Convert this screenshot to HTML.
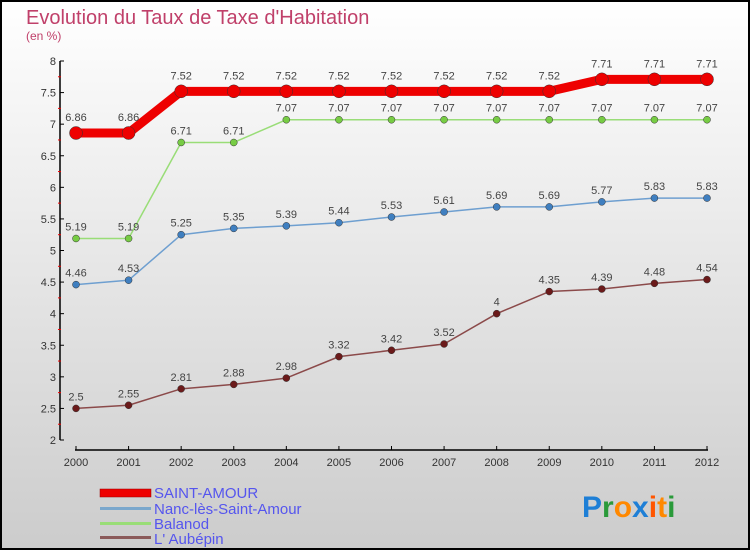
<!DOCTYPE html>
<html><head><meta charset="utf-8"><style>
body{margin:0;width:750px;height:550px;overflow:hidden}
svg{display:block;font-family:"Liberation Sans",sans-serif}
</style></head><body>
<svg id="chart" width="750" height="550" xmlns="http://www.w3.org/2000/svg">
<defs><linearGradient id="bg" x1="0" y1="0" x2="0" y2="1"><stop offset="0" stop-color="#ffffff"/><stop offset="1" stop-color="#cccccc"/></linearGradient></defs>
<rect x="1" y="1" width="748" height="548" fill="url(#bg)" stroke="#000" stroke-width="2"/>
<text x="26" y="24" font-size="20" fill="#c0406a">Evolution du Taux de Taxe d'Habitation</text>
<text x="26" y="40" font-size="12" fill="#c0406a">(en %)</text>
<g id="axes"></g>
<g id="series"></g>
<g font-size="15" fill="#5555ee">
<rect x="100" y="489" width="51" height="8" fill="#ee0000" stroke="#990000" stroke-width="0.5"/>
<text x="154" y="498">SAINT-AMOUR</text>
<rect x="100" y="507" width="51" height="3" fill="#7aa7cc"/>
<text x="154" y="514">Nanc-lès-Saint-Amour</text>
<rect x="100" y="522" width="51" height="3" fill="#99dd77"/>
<text x="154" y="529">Balanod</text>
<rect x="100" y="536" width="51" height="3" fill="#8b5a5a"/>
<text x="154" y="544">L' Aubépin</text>
</g>
<g font-size="30" font-weight="bold">
<text x="582" y="517"><tspan fill="#1e7fd6">P</tspan><tspan fill="#2a9a3a">r</tspan><tspan fill="#ff8800">o</tspan><tspan fill="#1e7fd6">x</tspan><tspan fill="#ff5500">i</tspan><tspan fill="#ff8800">t</tspan><tspan fill="#2a9a3a">i</tspan></text>
</g>
</svg>
<script>
const years=[2000,2001,2002,2003,2004,2005,2006,2007,2008,2009,2010,2011,2012];
const saintAmour=[6.86,6.86,7.52,7.52,7.52,7.52,7.52,7.52,7.52,7.52,7.71,7.71,7.71];
const nanc=[4.46,4.53,5.25,5.35,5.39,5.44,5.53,5.61,5.69,5.69,5.77,5.83,5.83];
const balanod=[5.19,5.19,6.71,6.71,7.07,7.07,7.07,7.07,7.07,7.07,7.07,7.07,7.07];
const aubepin=[2.5,2.55,2.81,2.88,2.98,3.32,3.42,3.52,4,4.35,4.39,4.48,4.54];
const yTicks=[2,2.5,3,3.5,4,4.5,5,5.5,6,6.5,7,7.5,8];
const NS="http://www.w3.org/2000/svg";
const xS=i=>76+i*(707-76)/(years.length-1);
const yS=v=>440-(v-2)*(440-61)/6;
function mk(t,a,p){const e=document.createElementNS(NS,t);for(const k in a)e.setAttribute(k,a[k]);p.appendChild(e);return e;}
const ax=document.getElementById('axes');
let l=mk('line',{x1:60,y1:61,x2:60,y2:440,stroke:'#000','stroke-width':1.5},ax);

l=mk('line',{x1:75,y1:450,x2:708,y2:450,stroke:'#000','stroke-width':1.5},ax);

yTicks.forEach((t,i)=>{const y=yS(t);
 mk('line',{x1:60,y1:y,x2:64,y2:y,stroke:'#000'},ax);
 if(i<yTicks.length-1)mk('line',{x1:58,y1:yS(t+0.25),x2:61,y2:yS(t+0.25),stroke:'#e00'},ax);
 const tx=mk('text',{x:56,y:y+4,'font-size':11,fill:'#333','text-anchor':'end'},ax);tx.textContent=t;
 });
years.forEach((yr,i)=>{const x=xS(i);
 mk('line',{x1:x,y1:446,x2:x,y2:450,stroke:'#000'},ax);
 const tx=mk('text',{x:x,y:466,'font-size':11,fill:'#333','text-anchor':'middle'},ax);tx.textContent=yr;
 });
const sg=document.getElementById('series');
function draw(name,vals,col,dot,w,r,lblDy){
 const g=mk('g',{},sg);
 mk('polyline',{points:vals.map((v,i)=>xS(i)+','+yS(v)).join(' '),fill:'none',stroke:col,'stroke-width':w,'stroke-linejoin':'round'},g);
 vals.forEach((v,i)=>{const c=mk('circle',{cx:xS(i),cy:yS(v),r:r,fill:dot,stroke:'#333','stroke-width':0.5},g);
  
  const t=mk('text',{x:xS(i),y:yS(v)+lblDy,'font-size':11,fill:'#444','text-anchor':'middle'},g);t.textContent=v;
  });
}
draw('aubepin',aubepin,'#8b4a4a','#6b1a1a',1.5,3.5,-8);
draw('nanc',nanc,'#6e9fd0','#3f7fc0',1.5,3.5,-8);
draw('balanod',balanod,'#99dd77','#77cc44',1.5,3.5,-8);
draw('saint-amour',saintAmour,'#ee0000','#ee0000',9,6.5,-12);
</script>
</body></html>
